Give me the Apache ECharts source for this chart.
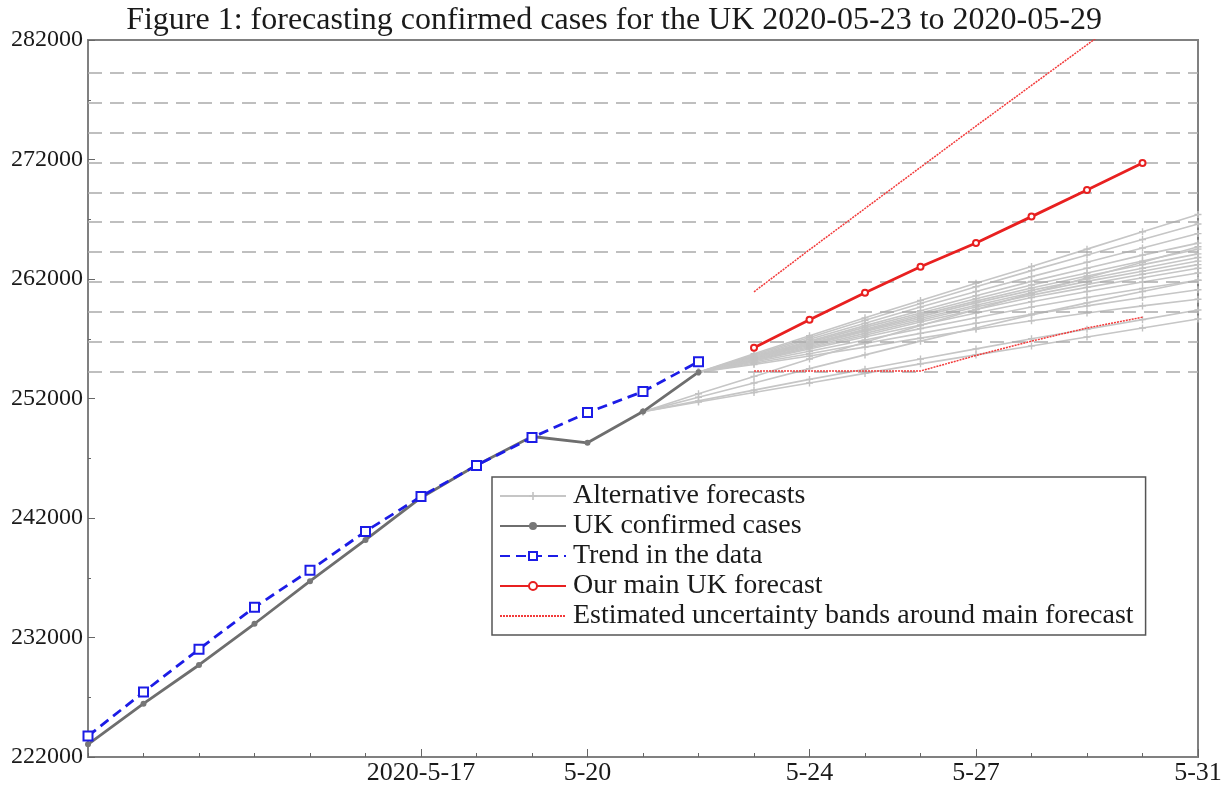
<!DOCTYPE html>
<html>
<head>
<meta charset="utf-8">
<script src="https://cdn.jsdelivr.net/npm/echarts@6/dist/echarts.min.js"></script>
<style>
  html, body { margin: 0; padding: 0; background: #fff; }
  #chart { width: 1228px; height: 786px; }
</style>
</head>
<body>
<div id="chart"></div>
<script>
// days on the x axis, 2020-05-11 .. 2020-05-31
const days = ["5-11", "5-12", "5-13", "5-14", "5-15", "5-16", "5-17", "5-18", "5-19", "5-20",
  "5-21", "5-22", "5-23", "5-24", "5-25", "5-26", "5-27", "5-28", "5-29", "5-30", "5-31"];
const tickLabels = ["", "", "", "", "", "", "2020-5-17", "", "", "5-20",
  "", "", "", "5-24", "", "", "5-27", "", "", "", "5-31"];

// 5-11 .. 5-22
const confirmed = [223060, 226460, 229700, 233150, 236710, 240160, 243700, 246410, 248820, 248290, 250910, 254200];
const trend = [223750, 227430, 231020, 234530, 237620, 240880, 243800, 246400, 248730, 250820, 252580, 255080];

// 5-23 .. 5-30
const mainForecast = [256250, 258590, 260850, 263020, 265020, 267220, 269450, 271700];
const upperBand = [260930, 264450, 267900, 271350, 274800, 278200, 281600, 285000];
const lowerBand = [254300, 254300, 254300, 254300, 255600, 256800, 257900, 258800];

// alternative forecasts starting 5-22 (5-22 .. 5-31)
const altFrom22 = [
  [254200, 255750, 257250, 258750, 260200, 261650, 263050, 264500, 265950, 267400],
  [254200, 255650, 257100, 258550, 259950, 261350, 262700, 264000, 265300, 266600],
  [254200, 255550, 256950, 258300, 259650, 260950, 262200, 263400, 264600, 265800],
  [254200, 255500, 256800, 258100, 259350, 260600, 261800, 262900, 264000, 265000],
  [254200, 255450, 256700, 257950, 259150, 260350, 261500, 262500, 263500, 264500],
  [254200, 255400, 256600, 257800, 259000, 260150, 261250, 262250, 263200, 264100],
  [254200, 255350, 256550, 257700, 258850, 260000, 261050, 262000, 262900, 263800],
  [254200, 255300, 256450, 257600, 258700, 259800, 260850, 261800, 262650, 263500],
  [254200, 255250, 256350, 257450, 258550, 259650, 260650, 261550, 262400, 263200],
  [254200, 255200, 256250, 257300, 258400, 259450, 260450, 261300, 262100, 262900],
  [254200, 255150, 256150, 257150, 258150, 259150, 260100, 260950, 261750, 262500],
  [254200, 255050, 255950, 256900, 257850, 258750, 259650, 260450, 261200, 261900],
  [254200, 254950, 255750, 256600, 257450, 258300, 259050, 259750, 260450, 261100],
  [254200, 254850, 255550, 256300, 257050, 257800, 258500, 259150, 259750, 260300],
];
// alternative forecasts starting 5-21 (5-21 .. 5-31)
const altFrom21 = [
  [250900, 251800, 252700, 253600, 254450, 255300, 256150, 257000, 257800, 258600, 259400],
  [250900, 252100, 253300, 254500, 255650, 256800, 257900, 259000, 260000, 260950, 261900],
  [250900, 252400, 253850, 255300, 256700, 258100, 259450, 260800, 262100, 263400, 264700],
  [250900, 251700, 252500, 253300, 254100, 254900, 255650, 256400, 257150, 257900, 258650],
];

// dashed reference levels
const refLevels = [254250, 256750, 259250, 261750, 264250, 266750, 269250, 271750, 274250, 276750, 279250];

const FONT = "Liberation Serif";
const BAND_NAME = "Estimated uncertainty bands around main forecast";
const pad = (offset, values) => Array(offset).fill(null).concat(values);

const plusSymbol = "path://M4,0H6V4H10V6H6V10H4V6H0V4H4Z";

const altSeries = [
  ...altFrom21.map((v) => pad(10, v)),
  ...altFrom22.map((v) => pad(11, v)),
].map((data, i) => ({
  name: "Alternative forecasts",
  type: "line",
  data,
  z: 1,
  symbol: plusSymbol,
  symbolSize: 7,
  itemStyle: { color: "#c2c2c2" },
  lineStyle: { color: "#c6c6c6", width: 1.6 },
  markLine: i === 0 ? {
    silent: true,
    symbol: "none",
    label: { show: false },
    lineStyle: { color: "#ababab", type: [14, 8], width: 1.5 },
    data: refLevels.map((v) => ({ yAxis: v })),
  } : undefined,
}));

const bandStyle = {
  name: BAND_NAME,
  type: "line",
  z: 5,
  showSymbol: false,
  symbol: "none",
  itemStyle: { color: "#f23a3a" },
  lineStyle: { color: "#f23a3a", width: 1.5, type: [2, 1] },
};

const option = {
  animation: false,
  title: {
    text: "Figure 1: forecasting confirmed cases for the UK 2020-05-23 to 2020-05-29",
    left: "center",
    top: 0,
    textStyle: { fontFamily: FONT, fontSize: 32, fontWeight: "normal", color: "#1a1a1a" },
  },
  grid: {
    left: 88, right: 30, top: 40, bottom: 28,
    show: true, borderColor: "#808080", borderWidth: 2,
  },
  legend: {
    data: ["Alternative forecasts", "UK confirmed cases", "Trend in the data",
      "Our main UK forecast", { name: BAND_NAME, itemStyle: { opacity: 0 } }],
    orient: "vertical",
    left: 492,
    top: 477,
    itemWidth: 66,
    itemHeight: 10,
    itemGap: 2,
    padding: [5, 12, 5, 7],
    backgroundColor: "#fff",
    borderColor: "#555",
    borderWidth: 1.5,
    borderRadius: 0,
    textStyle: { fontFamily: FONT, fontSize: 28, color: "#1a1a1a", lineHeight: 28, padding: [0, 0, 0, 2] },
  },
  xAxis: [
    {
      type: "category",
      data: days,
      boundaryGap: false,
      position: "bottom",
      axisLine: { lineStyle: { color: "#808080", width: 2 } },
      axisTick: { inside: true, interval: 0, length: 4, lineStyle: { color: "#666" } },
      axisLabel: { show: false },
      splitLine: { show: false },
    },
    {
      type: "category",
      data: days,
      boundaryGap: false,
      position: "bottom",
      axisLine: { show: false },
      axisTick: { inside: true, length: 8, interval: (i) => tickLabels[i] !== "", lineStyle: { color: "#666" } },
      axisLabel: {
        interval: (i) => tickLabels[i] !== "",
        formatter: (v, i) => tickLabels[i],
        fontFamily: FONT, fontSize: 26, color: "#1a1a1a", margin: 3,
      },
      splitLine: { show: false },
    },
  ],
  yAxis: {
    type: "value",
    min: 222000,
    max: 282000,
    interval: 10000,
    axisLine: { show: true, lineStyle: { color: "#808080", width: 2 } },
    axisTick: { show: true, inside: true, length: 7, lineStyle: { color: "#666" } },
    minorTick: { show: true, splitNumber: 2, length: 3, lineStyle: { color: "#666" } },
    splitLine: { show: false },
    axisLabel: {
      formatter: (v) => String(v),
      fontFamily: FONT, fontSize: 24, color: "#1a1a1a", margin: 5,
    },
  },
  series: [
    ...altSeries,
    {
      name: "UK confirmed cases",
      type: "line",
      data: confirmed,
      z: 3,
      symbol: "circle",
      symbolSize: 6,
      itemStyle: { color: "#777" },
      lineStyle: { color: "#6e6e6e", width: 2.8 },
    },
    {
      name: "Trend in the data",
      type: "line",
      data: trend,
      z: 4,
      symbol: "rect",
      symbolSize: 9,
      itemStyle: { color: "#fff", borderColor: "#1c1ce6", borderWidth: 2 },
      lineStyle: { color: "#1c1ce6", width: 2.8, type: [10, 6] },
    },
    {
      name: "Our main UK forecast",
      type: "line",
      data: pad(12, mainForecast),
      z: 5,
      symbol: "emptyCircle",
      symbolSize: 6,
      itemStyle: { color: "#e82020", borderWidth: 1.5 },
      lineStyle: { color: "#e82020", width: 2.8 },
    },
    { ...bandStyle, data: pad(12, upperBand) },
    { ...bandStyle, data: pad(12, lowerBand) },
  ],
};

const chart = echarts.init(document.getElementById("chart"));
chart.setOption(option);
</script>
</body>
</html>
